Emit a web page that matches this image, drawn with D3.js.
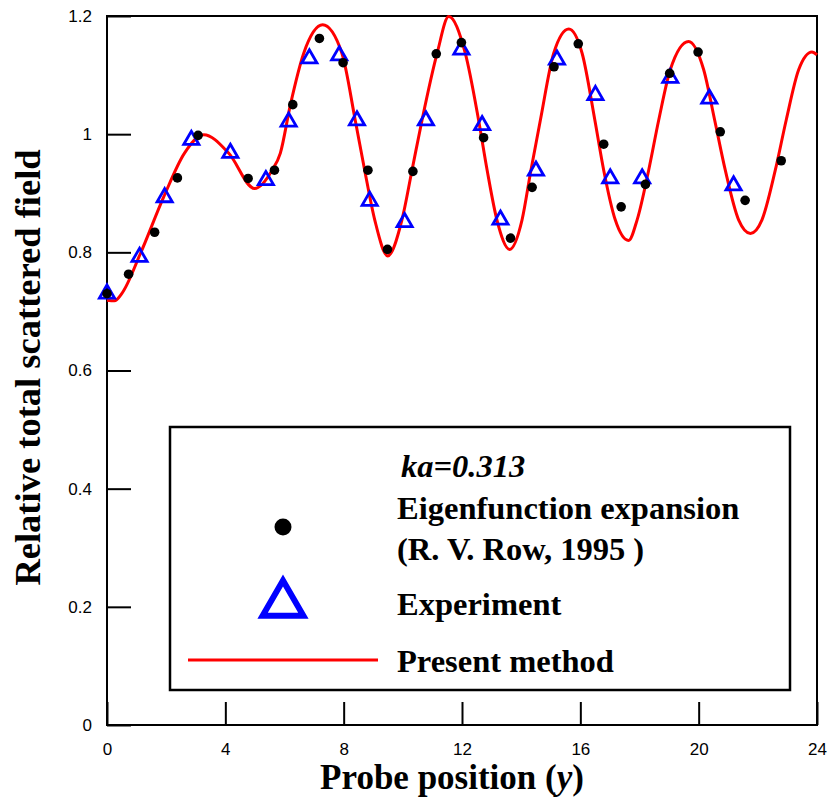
<!DOCTYPE html>
<html>
<head>
<meta charset="utf-8">
<script src="https://cdn.jsdelivr.net/npm/d3@7"></script>
<style>
  html, body { margin: 0; padding: 0; background: #fff; }
  svg { display: block; }
</style>
</head>
<body>
<script>
// Eigenfunction expansion (R. V. Row, 1995) — filled dots
const eigenX = [0, 0.73, 1.61, 2.38, 3.08, 4.77, 5.66, 6.28, 7.18, 7.98, 8.82, 9.48, 10.34, 11.13, 11.98,
                12.73, 13.64, 14.37, 15.11, 15.93, 16.79, 17.38, 18.2, 19.02, 19.98, 20.73, 21.57, 22.79];
const eigenY = [0.730, 0.763, 0.834, 0.926, 0.998, 0.925, 0.939, 1.050, 1.162, 1.121, 0.939, 0.805, 0.937, 1.136, 1.155,
                0.994, 0.824, 0.910, 1.114, 1.153, 0.983, 0.877, 0.915, 1.103, 1.139, 1.004, 0.888, 0.955];

// Experiment — open triangles
const expX = [0, 1.10, 1.95, 2.85, 4.17, 5.37, 6.14, 6.84, 7.85, 8.45, 8.88, 10.06, 10.78, 11.98,
              12.68, 13.30, 14.50, 15.21, 16.51, 17.01, 18.09, 19.04, 20.36, 21.18];
const expY = [0.730, 0.792, 0.893, 0.990, 0.968, 0.922, 1.021, 1.128, 1.133, 1.023, 0.887, 0.851, 1.023, 1.143,
              1.015, 0.855, 0.938, 1.126, 1.066, 0.925, 0.925, 1.095, 1.060, 0.913];

// Present method — solid red curve
const methodX = [0, 0.25, 0.51, 1.13, 1.91, 2.62, 3.27, 4.11, 4.99, 5.58, 5.86, 6.20, 6.65, 7.29, 7.94,
                 8.39, 8.71, 9.05, 9.49, 9.97, 10.31, 10.65, 11.16, 11.55, 12.11, 12.56, 12.85, 13.18, 13.61,
                 14.03, 14.33, 14.65, 15.10, 15.61, 16.06, 16.49, 16.79, 17.18, 17.63, 17.92, 18.31, 18.65,
                 19.04, 19.66, 20.17, 20.54, 20.90, 21.35, 21.75, 22.14, 22.59, 22.96, 23.38, 23.83, 24];
const methodY = [0.719, 0.718, 0.731, 0.798, 0.893, 0.968, 0.999, 0.968, 0.908, 0.939, 0.968, 1.050, 1.137, 1.185, 1.137,
                 1.024, 0.939, 0.855, 0.794, 0.855, 0.939, 1.024, 1.137, 1.199, 1.137, 1.024, 0.939, 0.855, 0.805,
                 0.855, 0.939, 1.024, 1.137, 1.178, 1.137, 1.024, 0.939, 0.855, 0.820, 0.855, 0.939, 1.024,
                 1.109, 1.157, 1.109, 1.024, 0.939, 0.855, 0.832, 0.855, 0.939, 1.024, 1.109, 1.139, 1.134];

const xTicks = [0, 4, 8, 12, 16, 20, 24];
const yTicks = [0, 0.2, 0.4, 0.6, 0.8, 1.0, 1.2];
const yTickLabels = ["0", "0.2", "0.4", "0.6", "0.8", "1", "1.2"];

const W = 829, H = 800;
const plot = { left: 107, right: 817, top: 16, bottom: 725 };

const svg = d3.select("body").append("svg").attr("width", W).attr("height", H);
svg.append("rect").attr("width", W).attr("height", H).attr("fill", "#fff");

const x = d3.scaleLinear().domain([0, 24]).range([plot.left, plot.right]);
const y = d3.scaleLinear().domain([0, 1.2]).range([plot.bottom, plot.top]);

const sansFont = "'Liberation Sans', Arial, sans-serif";
const serifFont = "'Liberation Serif', 'Times New Roman', serif";

// Axes: ticks point inward
const xAxis = d3.axisBottom(x).tickValues(xTicks).tickSize(-23)
  .tickFormat(d3.format("d"));
const yAxis = d3.axisLeft(y).tickValues(yTicks).tickSize(-24)
  .tickFormat((d, i) => yTickLabels[i]);

const gx = svg.append("g").attr("transform", `translate(0,${plot.bottom})`).call(xAxis);
const gy = svg.append("g").attr("transform", `translate(${plot.left},0)`).call(yAxis);
[gx, gy].forEach(g => {
  g.select(".domain").remove();
  g.selectAll(".tick line").attr("stroke", "#000").attr("stroke-width", 2);
  g.selectAll(".tick text").attr("fill", "#000").style("font-family", sansFont).style("font-size", "17px");
});
gy.selectAll(".tick text").attr("x", -15).attr("text-anchor", "end");
gx.selectAll(".tick text").attr("y", 30).attr("dy", null);

// Frame
svg.append("rect")
  .attr("x", plot.left).attr("y", plot.top)
  .attr("width", plot.right - plot.left).attr("height", plot.bottom - plot.top)
  .attr("fill", "none").attr("stroke", "#000").attr("stroke-width", 2);

// Curve
const methodPts = methodX.map((v, i) => [v, methodY[i]]);
const line = d3.line().x(d => x(d[0])).y(d => y(d[1])).curve(d3.curveMonotoneX);
svg.append("path").datum(methodPts)
  .attr("d", line).attr("fill", "none").attr("stroke", "#ff0000").attr("stroke-width", 3);

// Triangles
const triSmall = d3.symbol().type(d3.symbolTriangle).size(100);
svg.append("g").selectAll("path").data(expX.map((v, i) => [v, expY[i]])).join("path")
  .attr("d", triSmall)
  .attr("transform", d => `translate(${x(d[0])},${y(d[1])})`)
  .attr("fill", "none").attr("stroke", "#0000ff").attr("stroke-width", 2.8);

// Dots
svg.append("g").selectAll("circle").data(eigenX.map((v, i) => [v, eigenY[i]])).join("circle")
  .attr("cx", d => x(d[0])).attr("cy", d => y(d[1])).attr("r", 4.8).attr("fill", "#000");

// Axis titles
svg.append("text")
  .attr("x", (plot.left + plot.right) / 2 - 10).attr("y", 789)
  .attr("text-anchor", "middle")
  .style("font-family", serifFont).style("font-weight", "bold").style("font-size", "35px")
  .call(t => {
    t.append("tspan").text("Probe position (");
    t.append("tspan").style("font-style", "italic").text("y");
    t.append("tspan").text(")");
  });

svg.append("text")
  .attr("transform", `translate(40,${(plot.top + plot.bottom) / 2 - 3}) rotate(-90)`)
  .attr("text-anchor", "middle")
  .style("font-family", serifFont).style("font-weight", "bold").style("font-size", "36.5px")
  .text("Relative total scattered field");

// Legend
const lg = svg.append("g");
lg.append("rect").attr("x", 170).attr("y", 427).attr("width", 620).attr("height", 263)
  .attr("fill", "#fff").attr("stroke", "#000").attr("stroke-width", 2.5);

const legendText = (txt, yy, italic) => lg.append("text")
  .attr("x", italic ? 401 : 397).attr("y", yy)
  .style("font-family", serifFont).style("font-weight", "bold").style("font-size", "32.5px")
  .style("font-style", italic ? "italic" : "normal")
  .text(txt);

legendText("ka=0.313", 477, true);
legendText("Eigenfunction expansion", 519, false);
legendText("(R. V. Row, 1995 )", 560, false);
legendText("Experiment", 615, false);
legendText("Present method", 672, false);

lg.append("circle").attr("cx", 283).attr("cy", 527).attr("r", 8.5).attr("fill", "#000");
lg.append("path").attr("d", d3.symbol().type(d3.symbolTriangle).size(720))
  .attr("transform", "translate(283,604)")
  .attr("fill", "none").attr("stroke", "#0000ff").attr("stroke-width", 6);
lg.append("line").attr("x1", 188).attr("x2", 378).attr("y1", 660).attr("y2", 660)
  .attr("stroke", "#ff0000").attr("stroke-width", 3);
</script>
</body>
</html>
